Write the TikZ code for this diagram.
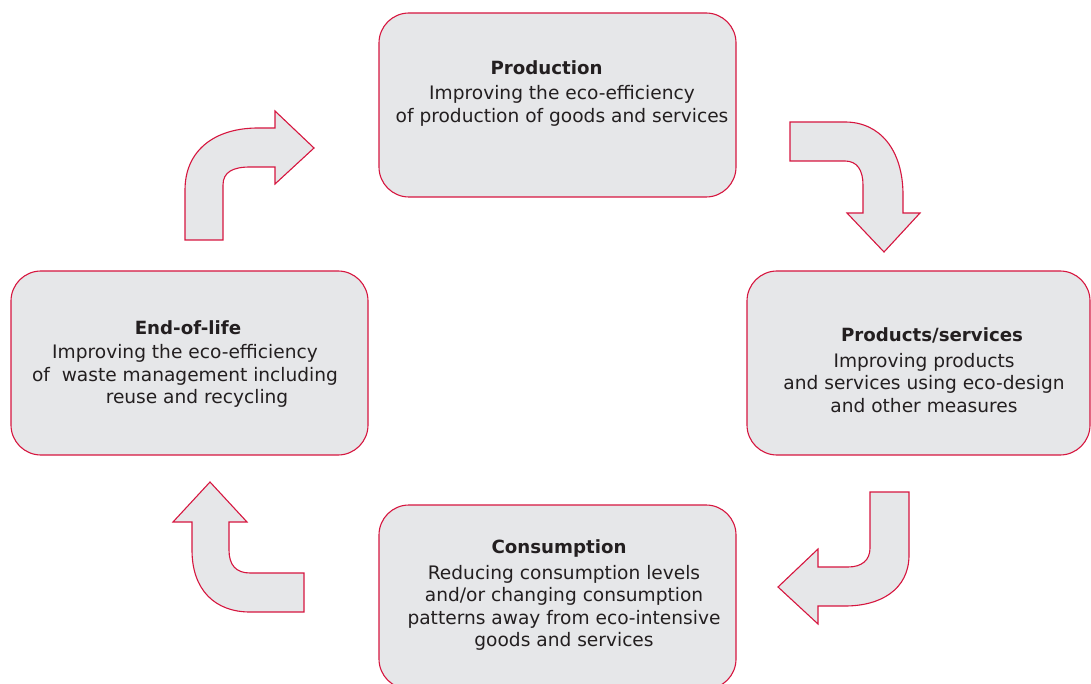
\documentclass[tikz,border=0pt]{standalone}
\usepackage{fontspec}
\setmainfont{DejaVu Sans}
\definecolor{boxfill}{HTML}{E6E7E9}
\definecolor{boxline}{HTML}{D6163F}
\definecolor{txt}{HTML}{231F20}
\begin{document}
\begin{tikzpicture}[x=1pt,y=-1pt,
  box/.style={draw=boxline, fill=boxfill, line width=1.1pt, rounded corners=30pt, inner sep=0pt},
  arr/.style={draw=boxline, fill=boxfill, line width=1.1pt, line join=miter},
  ttl/.style={text=txt, font=\fontsize{18.2}{22}\selectfont\bfseries, inner sep=0pt},
  body/.style={text=txt, font=\fontsize{18.6}{22.3}\selectfont, align=center, inner sep=0pt}]
\useasboundingbox (0,0) rectangle (1091,684);
% boxes
\node[box, minimum width=357pt, minimum height=184pt] (prod) at (557.5,105) {};
\node[box, minimum width=343pt, minimum height=184pt] (serv) at (918.5,363) {};
\node[box, minimum width=357pt, minimum height=184pt] (eol) at (189.5,363) {};
\node[box, minimum width=357pt, minimum height=184pt] (cons) at (557.5,597) {};
% texts
\node[ttl] (prodt) at (546.5,68) {Production};
\node[body] (prodb) at (562,106) {Improving the eco-efficiency\\of production of goods and services};
\node[ttl] (servt) at (932,335) {Products/services};
\node[body] (servb) at (924,383) {Improving products\\and services using eco-design\\and other measures};
\node[ttl] (eolt) at (188,328) {End-of-life};
\node[body] (eolb) at (185,376) {Improving the eco-efficiency\\of\ \ waste management including\\\hspace*{24pt}reuse and recycling};
\node[ttl] (const) at (559,548) {Consumption};
\node[body] (consb) at (564,608) {Reducing consumption levels\\and/or changing consumption\\patterns away from eco-intensive\\goods and services};
% arrows
\path[arr] (185,240) -- (185,190) .. controls (185,150) and (215,128) .. (258,128)
  -- (275,128) -- (275,111) -- (314,148) -- (275,184) -- (275,167) -- (250,167)
  .. controls (233,167) and (223,172) .. (223,185) -- (223,240) -- cycle;
\path[arr] (790,122) -- (845,122) .. controls (880,122) and (903,150) .. (903,195)
  -- (903,213) -- (920,213) -- (884,252) -- (847,213) -- (863,213) -- (863,185)
  .. controls (863,170) and (857,161) .. (845,161) -- (790,161) -- cycle;
\path[arr] (909,492) -- (909,555) .. controls (909,590) and (880,606) .. (845,606)
  -- (818,606) -- (818,624) -- (778,587) -- (818,549) -- (818,567) -- (848,567)
  .. controls (862,567) and (870,560) .. (870,548) -- (870,492) -- cycle;
\path[arr] (304,612) -- (250,612) .. controls (215,612) and (192,590) .. (192,550)
  -- (192,522) -- (173,522) -- (210,482) -- (247,522) -- (229,522) -- (229,550)
  .. controls (229,565) and (236,573) .. (250,573) -- (304,573) -- cycle;
\end{tikzpicture}
\end{document}
